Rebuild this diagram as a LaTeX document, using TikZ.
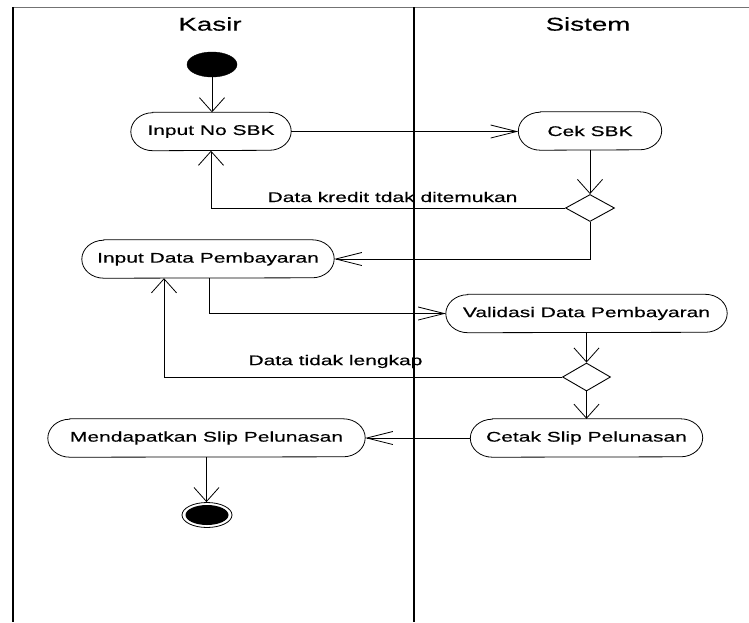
\documentclass[tikz,border=0pt]{standalone}
\usepackage{fontspec}
\setmainfont{Liberation Sans}[FakeStretch=1.5, FakeBold=0.35]
\usetikzlibrary{arrows.meta,shapes.geometric}
\tikzset{
  lane/.style={line width=2pt, black},
  topline/.style={line width=1.3pt, black!55},
  title/.style={font=\fontsize{18.5pt}{22pt}\selectfont, inner sep=0pt},
  act/.style={rectangle, draw=none, inner sep=0pt, minimum height=38pt, font=\fontsize{14pt}{16pt}\selectfont},
  actline/.style={line width=0.8pt, black},
  lbl/.style={font=\fontsize{14pt}{16pt}\selectfont, inner sep=0pt},
  dec/.style={diamond, draw, line width=0.9pt, inner sep=0pt, minimum width=49pt, minimum height=27pt},
  startnode/.style={ellipse, draw, fill=black, inner sep=0pt, minimum width=50pt, minimum height=25pt},
  endnode/.style={ellipse, draw, line width=0.8pt, fill=white, inner sep=0pt, minimum width=50pt, minimum height=25pt},
  flow/.style={line width=0.8pt, black},
  varr/.style={flow, -{Straight Barb[length=14pt, width=25pt, line width=0.8pt]}},
  harr/.style={flow, -{Straight Barb[length=26pt, width=13pt, line width=0.8pt]}},
}
\begin{document}
\begin{tikzpicture}[x=1pt, y=-1pt]
\useasboundingbox (0,0) rectangle (749,622);
% swimlanes
\draw[topline] (12,7.5) -- (749,7.5);
\draw[lane] (13,7) -- (13,622);
\draw[lane] (414,7) -- (414,622);
\node[title] (kasir) at (210,24) {Kasir};
\node[title] (sistem) at (588,24) {Sistem};
% nodes
\node[startnode] (start) at (212,64.5) {};
\node[act, minimum width=160pt] (in1) at (211,131.5) {Input No SBK};
\node[act, minimum width=143pt] (cek) at (590,131) {Cek SBK};
\node[dec] (d1) at (590,208) {};
\node[act, minimum width=252pt] (in2) at (208,259) {Input Data Pembayaran};
\node[act, minimum width=281pt] (val) at (586.5,313.5) {Validasi Data Pembayaran};
\node[dec, minimum width=48pt, minimum height=28pt] (d2) at (586.5,377) {};
\node[act, minimum width=232pt] (cet) at (586.5,438) {Cetak Slip Pelunasan};
\node[act, minimum width=317pt] (men) at (206.5,438) {Mendapatkan Slip Pelunasan};
\node[endnode] (end) at (207,515) {};
\fill (end.center) ellipse [x radius=21.5, y radius=10];
% activity outlines
\foreach \n in {in1,cek,in2,val,cet,men}{
  \draw[actline] ([xshift=22pt]\n.north west) -- ([xshift=-22pt]\n.north east)
    arc[start angle=-90, end angle=90, x radius=22, y radius=19]
    -- ([xshift=22pt]\n.south west)
    arc[start angle=90, end angle=270, x radius=22, y radius=19] -- cycle;
}
% labels
\node[lbl] (l1) at (392.5,197) {Data kredit tdak ditemukan};
\node[lbl] (l2) at (335.5,361.5) {Data tidak lengkap};
% connectors
\draw[varr] (start.south) -- (start.south |- in1.north);
\draw[harr] (in1.east) -- (in1.east -| cek.west);
\draw[varr] (cek.south) -- (d1.north);
\draw[varr] (d1.west) -| (in1.south);
\draw[harr] (d1.south) |- (in2.east);
\draw[harr] ([xshift=1pt]in2.south) |- (val.west);
\draw[varr] (val.south) -- (d2.north);
\draw[varr] (d2.west) -| ([xshift=-44pt]in2.south);
\draw[varr] (d2.south) -- (cet.north);
\draw[harr] (cet.west) -- (men.east);
\draw[varr] (men.south) -- (men.south |- end.north);
\end{tikzpicture}
\end{document}
